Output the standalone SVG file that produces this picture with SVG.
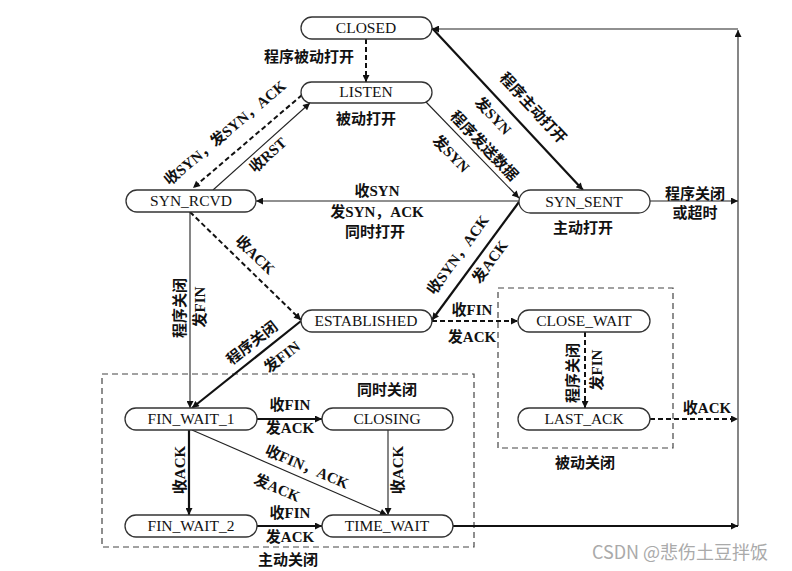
<svg xmlns="http://www.w3.org/2000/svg" width="792" height="571" viewBox="0 0 792 571">
<style>
.node rect{fill:#fff;stroke:#333;stroke-width:1.3}
.st{font-family:"Liberation Serif",serif;font-size:15.5px;text-anchor:middle;fill:#111}
.lb{font-family:"Liberation Serif","Noto Sans CJK SC",serif;font-size:15px;font-weight:bold;text-anchor:middle;dominant-baseline:central;fill:#111}
.thick{stroke:#111;stroke-width:2.2;fill:none}
.thin{stroke:#222;stroke-width:1.1;fill:none}
.dash{stroke:#111;stroke-width:2;stroke-dasharray:5 3;fill:none}
.box{stroke:#444;stroke-width:1.2;stroke-dasharray:6 4;fill:none}
.wm{font-family:"Noto Sans CJK SC","Liberation Sans",sans-serif;font-size:18px;fill:#aaa;text-anchor:middle}
</style>
<defs>
<marker id="ah" viewBox="0 0 10 10" refX="10" refY="5" markerWidth="9" markerHeight="7" markerUnits="userSpaceOnUse" orient="auto"><path d="M0,0 L10,5 L0,10 z" fill="#111"/></marker>
</defs>
<rect width="792" height="571" fill="#fff"/>
<g id="boxes">
<rect class="box" x="102" y="374" width="372" height="173"/>
<rect class="box" x="498" y="288" width="175" height="160"/>
</g>
<g id="connectors">
<path class="dash" d="M366,39 L366,82" marker-end="url(#ah)"/>
<path class="dash" d="M302,95 L193,188" marker-end="url(#ah)"/>
<path class="thin" d="M213,190 L310,103" marker-end="url(#ah)"/>
<path class="thick" d="M432,28 L583,190" marker-end="url(#ah)"/>
<path class="thin" d="M426,102 L519,198" marker-end="url(#ah)"/>
<path class="thin" d="M519,201 L256,201" marker-end="url(#ah)"/>
<path class="thick" d="M519,202 L432,320" marker-end="url(#ah)"/>
<path class="dash" d="M190,212 L301,320" marker-end="url(#ah)"/>
<path class="thin" d="M190,212 L190,408" marker-end="url(#ah)"/>
<path class="thick" d="M301,321 L192,408" marker-end="url(#ah)"/>
<path class="dash" d="M432,321 L518,321" marker-end="url(#ah)"/>
<path class="dash" d="M585,332 L585,408" marker-end="url(#ah)"/>
<path class="dash" d="M650,419 L738,419" marker-end="url(#ah)"/>
<path class="thick" d="M257,419 L322,419" marker-end="url(#ah)"/>
<path class="thick" d="M189,430 L189,515" marker-end="url(#ah)"/>
<path class="thin" d="M192,430 L387,515" marker-end="url(#ah)"/>
<path class="thin" d="M388,430 L388,515" marker-end="url(#ah)"/>
<path class="thick" d="M257,526 L322,526" marker-end="url(#ah)"/>
<path class="thick" d="M453,526 L738,526" marker-end="url(#ah)"/>
<path class="thin" d="M650,201 L738,201" marker-end="url(#ah)"/>
<path class="thin" d="M738,526 L738,30" marker-end="url(#ah)"/>
<path class="thin" d="M738,29 L432,29" marker-end="url(#ah)"/>
</g>
<g id="CLOSED" class="node"><rect x="301" y="17" width="131" height="22" rx="11"/><text class="st" x="366" y="33">CLOSED</text></g>
<g id="LISTEN" class="node"><rect x="301" y="82" width="131" height="21" rx="10.5"/><text class="st" x="366" y="97">LISTEN</text></g>
<g id="SYN_RCVD" class="node"><rect x="126" y="190" width="130" height="22" rx="11"/><text class="st" x="191" y="206">SYN_RCVD</text></g>
<g id="SYN_SENT" class="node"><rect x="519" y="190" width="131" height="23" rx="11.5"/><text class="st" x="584" y="207">SYN_SENT</text></g>
<g id="ESTABLISHED" class="node"><rect x="301" y="310" width="131" height="22" rx="11"/><text class="st" x="366" y="326">ESTABLISHED</text></g>
<g id="CLOSE_WAIT" class="node"><rect x="518" y="310" width="132" height="22" rx="11"/><text class="st" x="584" y="326">CLOSE_WAIT</text></g>
<g id="LAST_ACK" class="node"><rect x="518" y="408" width="132" height="22" rx="11"/><text class="st" x="584" y="424">LAST_ACK</text></g>
<g id="FIN_WAIT_1" class="node"><rect x="125" y="408" width="132" height="22" rx="11"/><text class="st" x="191" y="424">FIN_WAIT_1</text></g>
<g id="CLOSING" class="node"><rect x="322" y="408" width="131" height="22" rx="11"/><text class="st" x="387" y="424">CLOSING</text></g>
<g id="FIN_WAIT_2" class="node"><rect x="125" y="515" width="132" height="22" rx="11"/><text class="st" x="191" y="531">FIN_WAIT_2</text></g>
<g id="TIME_WAIT" class="node"><rect x="322" y="515" width="131" height="22" rx="11"/><text class="st" x="387" y="531">TIME_WAIT</text></g>
<g id="labels">
<text class="lb" x="309" y="57">程序被动打开</text>
<text class="lb" x="366" y="119">被动打开</text>
<text class="lb" transform="translate(225,133) rotate(-40)">收SYN，发SYN，ACK</text>
<text class="lb" transform="translate(268,155) rotate(-42)">收RST</text>
<text class="lb" transform="translate(533,108) rotate(47)">程序主动打开</text>
<text class="lb" transform="translate(493,116) rotate(47)">发SYN</text>
<text class="lb" transform="translate(484,146) rotate(46)">程序发送数据</text>
<text class="lb" transform="translate(451,154) rotate(46)">发SYN</text>
<text class="lb" x="377" y="191">收SYN</text>
<text class="lb" x="377" y="212">发SYN，ACK</text>
<text class="lb" x="375" y="232">同时打开</text>
<text class="lb" x="583" y="228">主动打开</text>
<text class="lb" x="695" y="194">程序关闭</text>
<text class="lb" x="695" y="213">或超时</text>
<text class="lb" transform="translate(458,255) rotate(-54)">收SYN，ACK</text>
<text class="lb" transform="translate(490,262) rotate(-54)">发ACK</text>
<text class="lb" transform="translate(255,255) rotate(44)">收ACK</text>
<text class="lb" transform="translate(180,308) rotate(-90)">程序关闭</text>
<text class="lb" transform="translate(200,307) rotate(-90)">发FIN</text>
<text class="lb" transform="translate(252,343) rotate(-38)">程序关闭</text>
<text class="lb" transform="translate(282,357) rotate(-38)">发FIN</text>
<text class="lb" x="472" y="310">收FIN</text>
<text class="lb" x="472" y="337">发ACK</text>
<text class="lb" transform="translate(573,373) rotate(-90)">程序关闭</text>
<text class="lb" transform="translate(597,370) rotate(-90)">发FIN</text>
<text class="lb" x="707" y="408">收ACK</text>
<text class="lb" x="387" y="390">同时关闭</text>
<text class="lb" x="290" y="405">收FIN</text>
<text class="lb" x="290" y="428">发ACK</text>
<text class="lb" transform="translate(180,470) rotate(-90)">收ACK</text>
<text class="lb" transform="translate(398,470) rotate(-90)">收ACK</text>
<text class="lb" transform="translate(307,467) rotate(23)">收FIN，ACK</text>
<text class="lb" transform="translate(277,488) rotate(23)">发ACK</text>
<text class="lb" x="290" y="513">收FIN</text>
<text class="lb" x="290" y="537">发ACK</text>
<text class="lb" x="288" y="560">主动关闭</text>
<text class="lb" x="585" y="463">被动关闭</text>
<text class="wm" x="680" y="559">CSDN @悲伤土豆拌饭</text>
</g>
</svg>
